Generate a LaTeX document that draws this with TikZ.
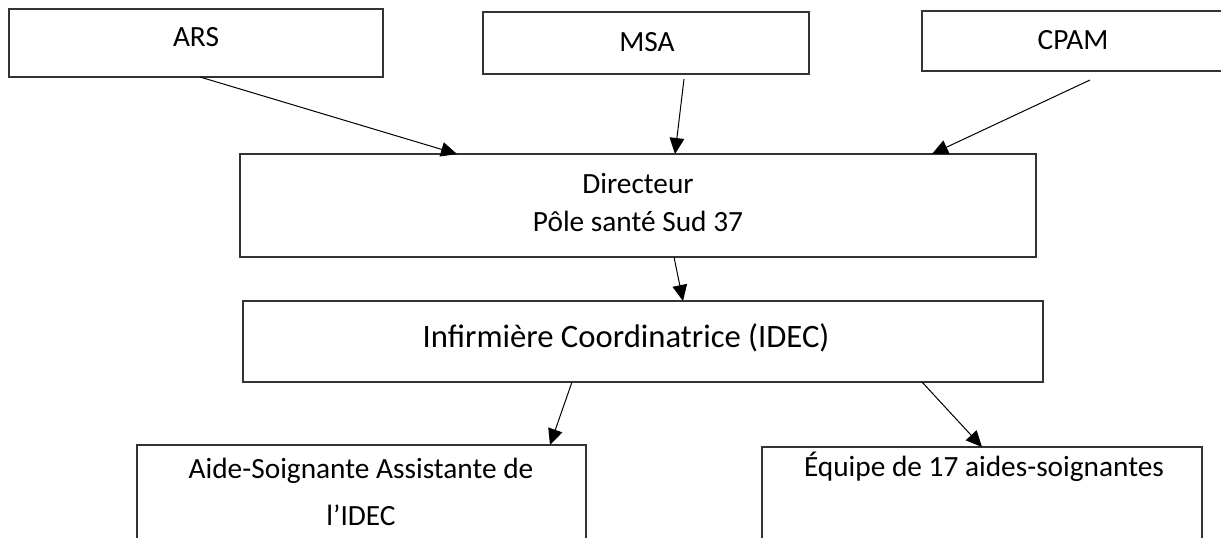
\documentclass[tikz,border=0pt]{standalone}
\usepackage{fontspec}
\setmainfont{Carlito}
\usetikzlibrary{arrows.meta}
\begin{document}
\begin{tikzpicture}[x=0.75pt,y=-0.75pt,
  box/.style={draw=black!80,line width=0.9pt,rectangle,anchor=north west,inner sep=0pt,outer sep=0pt},
  lbl/.style={anchor=base,inner sep=0pt,font=\fontsize{22pt}{26pt}\selectfont},
  biglbl/.style={lbl,font=\fontsize{24.5pt}{28pt}\selectfont},
  arr/.style={draw=black,line width=0.75pt,-{Triangle[length=12pt,width=11pt]}}]
\useasboundingbox (0,0) rectangle (1221,537);
\clip (0,0) rectangle (1221,537);
% boxes
\node[box,minimum width={374*0.75pt},minimum height={68*0.75pt}] (ars) at (9,9) {};
\node[box,minimum width={326*0.75pt},minimum height={62*0.75pt}] (msa) at (483,12) {};
\node[box,minimum width={302*0.75pt},minimum height={60*0.75pt}] (cpam) at (922,11) {};
\node[box,minimum width={796*0.75pt},minimum height={103*0.75pt}] (dir) at (240,154) {};
\node[box,minimum width={800*0.75pt},minimum height={81*0.75pt}] (idec) at (243,301) {};
\node[box,minimum width={449*0.75pt},minimum height={120*0.75pt}] (aide) at (137,445) {};
\node[box,minimum width={440*0.75pt},minimum height={120*0.75pt}] (equipe) at (762,447) {};
% texts
\node[lbl] (ars-t) at (196,46) {ARS};
\node[lbl] (msa-t) at (647,51) {MSA};
\node[lbl] (cpam-t) at (1073,49) {CPAM};
\node[lbl] (dir-t1) at (638,193) {Directeur};
\node[lbl] (dir-t2) at (638,231) {Pôle santé Sud 37};
\node[biglbl] (idec-t) at (626,347) {Infirmière Coordinatrice (IDEC)};
\node[lbl] (aide-t1) at (361,478) {Aide-Soignante Assistante de};
\node[lbl] (aide-t2) at (361,525) {l’IDEC};
\node[lbl] (equipe-t) at (984,476) {Équipe de 17 aides-soignantes};
% connectors
\draw[arr] ([xshift=191*0.75pt]ars.south west) -- ([xshift=217*0.75pt]dir.north west);
\draw[arr] ([xshift=201*0.75pt,yshift=-5*0.75pt]msa.south west) -- ([xshift=435*0.75pt]dir.north west);
\draw[arr] ([xshift=168*0.75pt,yshift=-9*0.75pt]cpam.south west) -- ([xshift=692*0.75pt]dir.north west);
\draw[arr] ([xshift=434*0.75pt]dir.south west) -- ([xshift=440*0.75pt]idec.north west);
\draw[arr] ([xshift=329*0.75pt]idec.south west) -- ([xshift=413*0.75pt]aide.north west);
\draw[arr] ([xshift=679*0.75pt]idec.south west) -- ([xshift=220*0.75pt]equipe.north west);
\end{tikzpicture}
\end{document}
